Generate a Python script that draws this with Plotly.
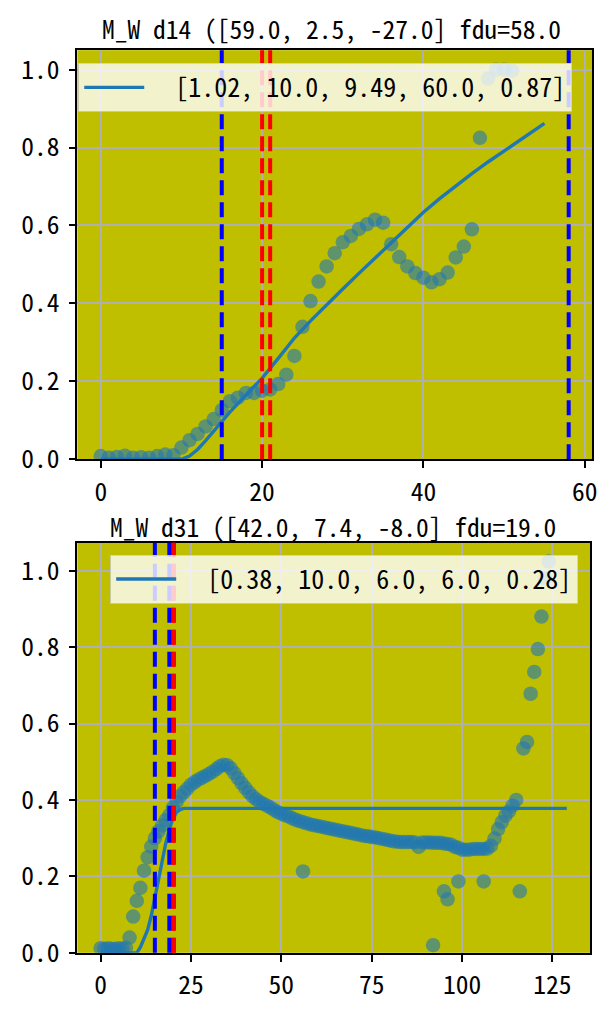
import plotly.graph_objects as go

# ---------------- data: top panel (d14) ----------------
top_title = "M_W d14 ([59.0, 2.5, -27.0] fdu=58.0"
top_label = "\u00a0\u00a0[1.02, 10.0, 9.49, 60.0, 0.87]"
top_obs_x = list(range(0, 52))
top_obs_y = [0.008, 0.004, 0.006, 0.009, 0.004, 0.005, 0.004, 0.008, 0.012, 0.010,
             0.030, 0.049, 0.065, 0.084, 0.103, 0.126, 0.149, 0.158, 0.170, 0.170,
             0.176, 0.179, 0.193, 0.217, 0.265, 0.340, 0.406, 0.456, 0.495, 0.529,
             0.557, 0.573, 0.591, 0.603, 0.615, 0.607, 0.552, 0.519, 0.495, 0.478,
             0.466, 0.454, 0.462, 0.479, 0.518, 0.546, 0.590, 0.825, 0.977, 1.000,
             1.000, 0.997]
top_fit_x = [0, 2, 4, 6, 8, 10, 11, 12, 13, 14, 15, 16, 17, 18, 19, 20, 22, 24, 26, 28,
             30, 32, 34, 36, 38, 40, 42, 44, 46, 48, 50, 52, 54, 55]
top_fit_y = [0.0, 0.0, 0.0, 0.0, 0.0, 0.0, 0.008, 0.025, 0.048, 0.073, 0.099, 0.121,
             0.143, 0.164, 0.186, 0.208, 0.259, 0.311, 0.355, 0.397, 0.437, 0.477,
             0.516, 0.556, 0.596, 0.634, 0.669, 0.702, 0.733, 0.763, 0.792, 0.820,
             0.848, 0.862]
top_blue_first = [15]
top_red = [20, 21]
top_blue_last = [58]
top_xticks = [0, 20, 40, 60]

# ---------------- data: bottom panel (d31) ----------------
bot_title = "M_W d31 ([42.0, 7.4, -8.0] fdu=19.0"
bot_label = "\u00a0\u00a0[0.38, 10.0, 6.0, 6.0, 0.28]"
bot_obs_x = list(range(0, 116))
bot_obs_y = [0.012, 0.010, 0.012, 0.011, 0.010, 0.012, 0.011, 0.013, 0.040, 0.095,
             0.136, 0.170, 0.215, 0.250, 0.278, 0.300, 0.318, 0.333, 0.347, 0.360,
             0.380, 0.395, 0.410, 0.420, 0.430, 0.440, 0.447, 0.453, 0.458, 0.463,
             0.468, 0.474, 0.481, 0.488, 0.492, 0.491, 0.483, 0.470, 0.457, 0.444,
             0.432, 0.420, 0.410, 0.402, 0.395, 0.390, 0.385, 0.380, 0.374, 0.368,
             0.364, 0.360, 0.357, 0.352, 0.348, 0.345, 0.342, 0.339, 0.336, 0.334,
             0.332, 0.330, 0.328, 0.326, 0.324, 0.322, 0.320, 0.318, 0.316, 0.314,
             0.312, 0.310, 0.308, 0.306, 0.305, 0.303, 0.302, 0.300, 0.298, 0.296,
             0.294, 0.292, 0.291, 0.290, 0.290, 0.290, 0.290, 0.289, 0.277, 0.289,
             0.289, 0.289, 0.288, 0.288, 0.288, 0.286, 0.285, 0.283, 0.277, 0.275,
             0.270, 0.270, 0.270, 0.272, 0.272, 0.272, 0.272, 0.273, 0.280, 0.299,
             0.324, 0.342, 0.359, 0.370, 0.385, 0.400]
bot_extra_x = [56, 92, 95, 96, 99, 106, 116, 117, 118, 119, 120, 121, 122, 123, 124]
bot_extra_y = [0.213, 0.020, 0.161, 0.140, 0.187, 0.187, 0.161, 0.535, 0.552, 0.678,
               0.735, 0.795, 0.880, 0.980, 1.024]
bot_fit_x = [0, 2, 4, 6, 8, 10, 11, 12, 13, 14, 15, 16, 17, 18, 19, 20, 21, 22, 23, 129]
bot_fit_y = [0.0, 0.0, 0.0, 0.0, 0.0, 0.0, 0.015, 0.035, 0.060, 0.097, 0.143, 0.193,
             0.243, 0.286, 0.323, 0.352, 0.368, 0.375, 0.378, 0.378]
bot_blue_first = [15]
bot_red = [20, 20.3]
bot_blue_last = [19]
bot_xticks = [0, 25, 50, 75, 100, 125]

yticks = [0.0, 0.2, 0.4, 0.6, 0.8, 1.0]

# ---------------- styling ----------------
W, H = 607, 1018
FONT = "Noto Sans Mono CJK SC, Noto Sans CJK SC, DejaVu Sans Mono, monospace"
FS = 25.5
FS_TITLE = 25.5
FS_LEG = 26
BG = "#bfbf00"
C0 = "#1f77b4"
GRID = "#b0b0b0"
LW_AX = 1.67


def px(v):
    return v / W


def py(v):
    return 1 - v / H


fig = go.Figure()

panels = [
    dict(xa="x", ya="y", obs=(top_obs_x, top_obs_y), extra=None,
         fit=(top_fit_x, top_fit_y), label=top_label, legend="legend"),
    dict(xa="x2", ya="y2", obs=(bot_obs_x, bot_obs_y), extra=(bot_extra_x, bot_extra_y),
         fit=(bot_fit_x, bot_fit_y), label=bot_label, legend="legend2"),
]

MK = dict(size=14.5, color=C0, opacity=0.6, line=dict(width=0))

for p in panels:
    fig.add_trace(go.Scatter(x=p["obs"][0], y=p["obs"][1], mode="markers", marker=MK,
                             xaxis=p["xa"], yaxis=p["ya"], showlegend=False,
                             hoverinfo="skip"))
    if p["extra"] is not None:
        fig.add_trace(go.Scatter(x=p["extra"][0], y=p["extra"][1], mode="markers",
                                 marker=MK, xaxis=p["xa"], yaxis=p["ya"],
                                 showlegend=False, hoverinfo="skip"))
    fig.add_trace(go.Scatter(x=p["fit"][0], y=p["fit"][1], mode="lines",
                             line=dict(color=C0, width=3.4), name=p["label"],
                             xaxis=p["xa"], yaxis=p["ya"], showlegend=True,
                             legend=p["legend"]))


def vline(xv, color, xa, ya):
    fig.add_shape(type="line", x0=xv, x1=xv, y0=0, y1=1,
                  xref=xa, yref=ya + " domain",
                  line=dict(color=color, width=4, dash="15px,7px"), layer="above")


for v in top_blue_first:
    vline(v, "blue", "x", "y")
for v in top_red:
    vline(v, "red", "x", "y")
for v in top_blue_last:
    vline(v, "blue", "x", "y")
for v in bot_blue_first:
    vline(v, "blue", "x2", "y2")
for v in bot_red:
    vline(v, "red", "x2", "y2")
for v in bot_blue_last:
    vline(v, "blue", "x2", "y2")

axis_common = dict(showline=True, linecolor="black", linewidth=LW_AX, mirror=True,
                   ticks="outside", ticklen=7, tickwidth=LW_AX, tickcolor="black",
                   showgrid=True, gridcolor=GRID, gridwidth=1.67, zeroline=False,
                   tickfont=dict(family=FONT, size=FS, color="black"))

legend_common = dict(xanchor="right", yanchor="top", itemwidth=60,
                     bgcolor="rgba(255,255,255,0.8)", bordercolor="rgba(204,204,204,0.8)",
                     borderwidth=1, font=dict(family=FONT, size=FS_LEG, color="black"))

fig.update_layout(
    width=W, height=H,
    margin=dict(l=0, r=0, t=0, b=0),
    paper_bgcolor="white",
    plot_bgcolor=BG,
    font=dict(family=FONT, size=FS, color="black"),
    xaxis=dict(domain=[px(78), px(597)], range=[-2.9, 60.9], tickvals=top_xticks,
               anchor="y", ticklabelstandoff=2, **axis_common),
    yaxis=dict(domain=[py(466), py(50)], range=[0, 1.05], tickvals=yticks,
               tickformat=".1f", anchor="x", ticklabelstandoff=4, **axis_common),
    xaxis2=dict(domain=[px(78), px(595)], range=[-6.45, 135.45], tickvals=bot_xticks,
                anchor="y2", ticklabelstandoff=2, **axis_common),
    yaxis2=dict(domain=[py(968), py(551)], range=[0, 1.073], tickvals=yticks,
                tickformat=".1f", anchor="x2", ticklabelstandoff=4, **axis_common),
    legend=dict(x=px(577), y=py(63), **legend_common),
    legend2=dict(x=px(583), y=py(563), **legend_common),
    annotations=[
        dict(text=top_title, x=px(334), y=py(27), xref="paper", yref="paper",
             xanchor="center", yanchor="middle", showarrow=False,
             font=dict(family=FONT, size=FS_TITLE, color="black")),
        dict(text=bot_title, x=px(336), y=py(533), xref="paper", yref="paper",
             xanchor="center", yanchor="middle", showarrow=False,
             font=dict(family=FONT, size=FS_TITLE, color="black")),
    ],
)

fig.write_html("out.html", config={"displayModeBar": False},
               post_script="document.body.style.margin='0';")
